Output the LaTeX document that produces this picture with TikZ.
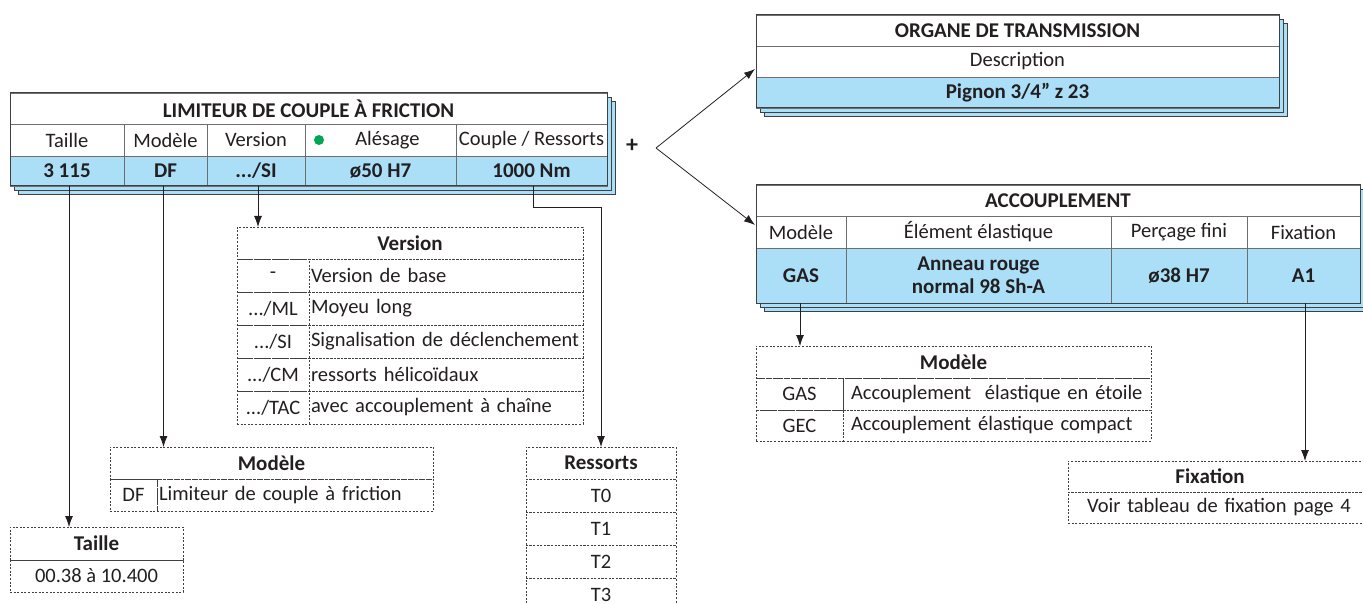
\documentclass[tikz,border=0pt]{standalone}
\usepackage{fontspec}
\setmainfont{Carlito}
\usetikzlibrary{arrows.meta}
\definecolor{cblue}{HTML}{ABDFF8}
\definecolor{cframe}{HTML}{404040}
\definecolor{cgrid}{HTML}{6E6E6E}
\definecolor{ctext}{HTML}{231F20}
\definecolor{cgreen}{HTML}{00A651}
\tikzset{
  cell/.style={draw=cgrid, line width=0.7pt, anchor=north west, inner sep=0pt, outer sep=0pt, align=center, text=ctext, font=\fontsize{20.5}{23}\selectfont},
  bcell/.style={cell, font=\fontsize{21}{23}\selectfont\bfseries},
  datacell/.style={bcell, fill=cblue},
  frame/.style={draw=cframe, line width=1pt},
  layer/.style={draw=cframe, line width=0.9pt, fill=cblue},
  dcell/.style={draw=cframe, line width=0.6pt, dash pattern=on 2pt off 1.6pt, anchor=north west, inner sep=0pt, outer sep=0pt, text=ctext, font=\fontsize{20.5}{23}\selectfont},
  dcellb/.style={dcell, font=\fontsize{21}{23}\selectfont\bfseries},
  conn/.style={draw=ctext, line width=0.8pt},
  arr/.style={conn, -{Latex[length=11pt,width=8pt]}},
}
\begin{document}
\begin{tikzpicture}[x=1pt,y=-1pt]
\useasboundingbox (0,0) rectangle (1363,604);

% ===== LIMITEUR table =====
\draw[layer] (18,101) rectangle (615,194);
\draw[layer] (14,97) rectangle (611,190);
\node[cell, fill=white, minimum width=597pt, minimum height=31pt, font=\fontsize{21}{23}\selectfont\bfseries] (limT) at (10,93) {LIMITEUR DE COUPLE À FRICTION};
\node[cell, fill=white, minimum width=114pt, minimum height=32pt] (hTaille) at (10,124) {Taille};
\node[cell, fill=white, minimum width=83pt, minimum height=32pt] (hModele) at (124,124) {Modèle};
\node[cell, fill=white, minimum width=98pt, minimum height=32pt] (hVersion) at (207,124) {Version};
\node[cell, fill=white, minimum width=151pt, minimum height=32pt] (hAlesage) at (305,124) {\hspace*{14pt}Alésage};
\node[cell, fill=white, minimum width=151pt, minimum height=32pt] (hCouple) at (456,124) {Couple / Ressorts};
\node[datacell, minimum width=114pt, minimum height=30pt] (dTaille) at (10,156) {3 115};
\node[datacell, minimum width=83pt, minimum height=30pt] (dModele) at (124,156) {DF};
\node[datacell, minimum width=98pt, minimum height=30pt] (dVersion) at (207,156) {.../SI};
\node[datacell, minimum width=151pt, minimum height=30pt] (dAlesage) at (305,156) {ø50 H7};
\node[datacell, minimum width=151pt, minimum height=30pt] (dCouple) at (456,156) {1000 Nm};
\fill[cgreen] (319,140) circle (5pt);
\draw[frame] (10,93) rectangle (607,186);

% ===== ORGANE table =====
\draw[layer] (764,23) rectangle (1287,116);
\draw[layer] (760,19) rectangle (1283,112);
\node[cell, fill=white, minimum width=523pt, minimum height=31pt, font=\fontsize{21}{23}\selectfont\bfseries] (orgT) at (756,15) {ORGANE DE TRANSMISSION};
\node[cell, fill=white, minimum width=523pt, minimum height=31pt] (orgD) at (756,46) {Description};
\node[datacell, minimum width=523pt, minimum height=31pt] (orgP) at (756,77) {Pignon 3/4” z 23};
\draw[frame] (756,15) rectangle (1279,108);

% ===== ACCOUPLEMENT table =====
\draw[layer] (764,193) rectangle (1368,311);
\draw[layer] (760,189) rectangle (1364,307);
\node[cell, fill=white, minimum width=604pt, minimum height=31pt, font=\fontsize{21}{23}\selectfont\bfseries] (accT) at (756,185) {ACCOUPLEMENT};
\node[cell, fill=white, minimum width=90pt, minimum height=32pt] (haMod) at (756,216) {Modèle};
\node[cell, fill=white, minimum width=265pt, minimum height=32pt] (haElem) at (846,216) {Élément élastique};
\node[cell, fill=white, minimum width=136pt, minimum height=32pt] (haPerc) at (1111,216) {Perçage fini};
\node[cell, fill=white, minimum width=113pt, minimum height=32pt] (haFix) at (1247,216) {Fixation};
\node[datacell, minimum width=90pt, minimum height=55pt] (daMod) at (756,248) {GAS};
\node[datacell, minimum width=265pt, minimum height=55pt] (daElem) at (846,248) {Anneau rouge\\normal 98 Sh-A};
\node[datacell, minimum width=136pt, minimum height=55pt] (daPerc) at (1111,248) {ø38 H7};
\node[datacell, minimum width=113pt, minimum height=55pt] (daFix) at (1247,248) {A1};
\draw[frame] (756,185) rectangle (1360,303);

% ===== plus and arrows =====
\node[font=\fontsize{24}{24}\selectfont\bfseries, text=ctext, inner sep=0pt] (plus) at (632,146) {+};
\coordinate (split) at (656,148);
\coordinate (tipA) at (755,69);
\coordinate (tipB) at (755,225);
\draw[arr] (split) -- (tipA);
\draw[arr] (split) -- (tipB);

% ===== Version box =====
\node[dcellb, minimum width=346pt, minimum height=32pt, align=center] (verT) at (237,227) {Version};
\node[dcell, minimum width=72pt, minimum height=33pt, align=center] (v1a) at (237,259) {-};
\node[dcell, minimum width=274pt, minimum height=33pt, text width=270pt, align=left] (v1b) at (309,259) {Version de base};
\node[dcell, minimum width=72pt, minimum height=33pt, align=center] (v2a) at (237,292) {.../ML};
\node[dcell, minimum width=274pt, minimum height=33pt, text width=270pt, align=left] (v2b) at (309,292) {Moyeu long};
\node[dcell, minimum width=72pt, minimum height=33pt, align=center] (v3a) at (237,325) {.../SI};
\node[dcell, minimum width=274pt, minimum height=33pt, text width=270pt, align=left] (v3b) at (309,325) {Signalisation de déclenchement};
\node[dcell, minimum width=72pt, minimum height=33pt, align=center] (v4a) at (237,358) {.../CM};
\node[dcell, minimum width=274pt, minimum height=33pt, text width=270pt, align=left] (v4b) at (309,358) {ressorts hélicoïdaux};
\node[dcell, minimum width=72pt, minimum height=33pt, align=center] (v5a) at (237,391) {.../TAC};
\node[dcell, minimum width=274pt, minimum height=33pt, text width=270pt, align=left] (v5b) at (309,391) {avec accouplement à chaîne};

% ===== Modele (left) box =====
\node[dcellb, minimum width=323pt, minimum height=32pt, align=center] (modT) at (110,447) {Modèle};
\node[dcell, minimum width=47pt, minimum height=32pt, align=center] (mod1a) at (110,479) {DF};
\node[dcell, minimum width=276pt, minimum height=32pt, text width=272pt, align=left] (mod1b) at (157,479) {Limiteur de couple à friction};

% ===== Taille box =====
\node[dcellb, minimum width=173pt, minimum height=33pt, align=center] (taiT) at (10,527) {Taille};
\node[dcell, minimum width=173pt, minimum height=32pt, align=center] (tai1) at (10,560) {00.38 à 10.400};

% ===== Ressorts box =====
\node[dcellb, minimum width=150pt, minimum height=32pt, align=center] (resT) at (526,447) {Ressorts};
\node[dcell, minimum width=150pt, minimum height=33pt, align=center] (res0) at (526,479) {T0};
\node[dcell, minimum width=150pt, minimum height=33pt, align=center] (res1) at (526,512) {T1};
\node[dcell, minimum width=150pt, minimum height=33pt, align=center] (res2) at (526,545) {T2};
\node[dcell, minimum width=150pt, minimum height=33pt, align=center] (res3) at (526,578) {T3};

% ===== Modele (right) box =====
\node[dcellb, minimum width=395pt, minimum height=32pt, align=center] (mrT) at (756,346) {Modèle};
\node[dcell, minimum width=87pt, minimum height=32pt, align=center] (mr1a) at (756,378) {GAS};
\node[dcell, minimum width=308pt, minimum height=32pt, text width=300pt, align=left] (mr1b) at (843,378) {\hspace*{4pt}Accouplement\ \ élastique en étoile};
\node[dcell, minimum width=87pt, minimum height=31pt, align=center] (mr2a) at (756,410) {GEC};
\node[dcell, minimum width=308pt, minimum height=31pt, text width=300pt, align=left] (mr2b) at (843,410) {\hspace*{4pt}Accouplement élastique compact};

% ===== Fixation box =====
\node[dcellb, minimum width=302pt, minimum height=31pt] (fixT) at (1068,461) {\hspace*{-18pt}Fixation};
\node[dcell, minimum width=302pt, minimum height=31pt, text width=294pt, align=left] (fix1) at (1068,492) {\hspace*{15pt}Voir tableau de fixation page 4};

% ===== connectors =====
\draw[arr] ([xshift=2pt]dTaille.south) -- ([xshift=2pt]dTaille.south |- taiT.north);
\draw[arr] ([xshift=-2pt]dModele.south) -- ([xshift=-2pt]dModele.south |- modT.north);
\draw[arr] ([xshift=2pt]dVersion.south) -- ([xshift=2pt]dVersion.south |- verT.north);
\draw[arr] ([xshift=1.5pt]dCouple.south) -- ++(0,21) -| (resT.north);
\draw[arr] ([xshift=-1pt]daMod.south) -- ([xshift=-1pt]daMod.south |- mrT.north);
\draw[arr] ([xshift=1.5pt]daFix.south) -- ([xshift=1.5pt]daFix.south |- fixT.north);
\end{tikzpicture}
\end{document}
